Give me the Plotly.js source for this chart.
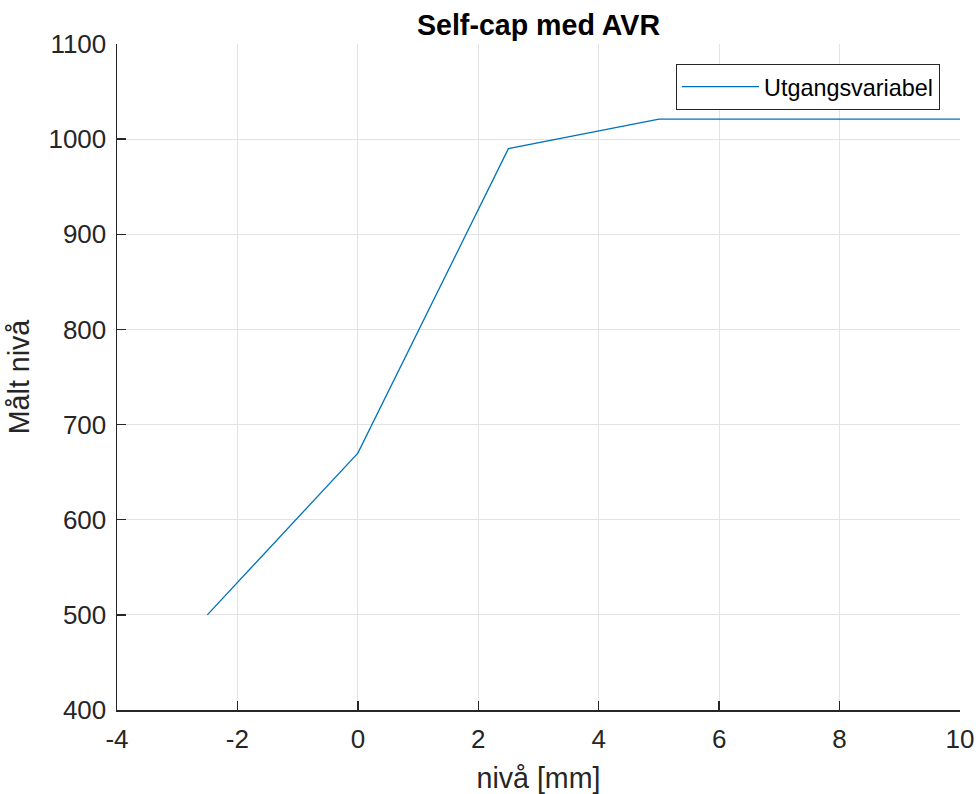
<!DOCTYPE html>
<html>
<head>
<meta charset="utf-8">
<script src="https://cdn.plot.ly/plotly-3.0.1.min.js"></script>
<style>
  html, body { margin: 0; padding: 0; background: #ffffff; }
  #chart { width: 976px; height: 794px; }
</style>
</head>
<body>
<div id="chart"></div>
<script>
// Data
const levelMm = [-2.5, 0, 2.5, 5, 7.5, 10];
const measuredLevel = [500, 670, 990, 1021, 1021, 1021];
const seriesName = "Utgangsvariabel";
const chartTitle = "Self-cap med AVR";
const xLabel = "nivå [mm]";
const yLabel = "Målt nivå";
const xTicks = [-4, -2, 0, 2, 4, 6, 8, 10];
const yTicks = [400, 500, 600, 700, 800, 900, 1000, 1100];

const FONT = '"Liberation Sans", Arial, Helvetica, sans-serif';
const AXC = '#262626';

const trace = {
  x: levelMm,
  y: measuredLevel,
  type: 'scatter',
  mode: 'lines',
  name: seriesName,
  line: { color: '#0072BD', width: 1.3 },
  showlegend: true
};

const layout = {
  width: 976,
  height: 794,
  paper_bgcolor: '#ffffff',
  plot_bgcolor: '#ffffff',
  margin: { l: 117, r: 16, t: 44, b: 84, pad: 0 },
  font: { family: FONT, color: AXC, size: 26 },
  title: {
    text: '<b>' + chartTitle + '</b>',
    font: { family: FONT, size: 28.6, color: '#000000' },
    xref: 'paper', x: 0.5, xanchor: 'center',
    yref: 'container', y: 1 - 25 / 794, yanchor: 'middle'
  },
  xaxis: {
    range: [-4, 10],
    tickvals: xTicks,
    ticktext: xTicks.map(String),
    ticks: 'inside', ticklen: 9, tickwidth: 1.5, tickcolor: AXC,
    ticklabelstandoff: 5,
    showline: true, linecolor: AXC, linewidth: 1.5, mirror: false,
    showgrid: true, gridcolor: '#e3e3e3', gridwidth: 1,
    zeroline: false,
    tickfont: { family: FONT, size: 26, color: AXC },
    title: { text: xLabel, font: { family: FONT, size: 28.6, color: AXC }, standoff: 16 }
  },
  yaxis: {
    range: [400, 1100],
    tickvals: yTicks,
    ticktext: yTicks.map(String),
    ticks: 'inside', ticklen: 9, tickwidth: 1.5, tickcolor: AXC,
    ticklabelstandoff: 4,
    showline: true, linecolor: AXC, linewidth: 1.5, mirror: false,
    showgrid: true, gridcolor: '#e3e3e3', gridwidth: 1,
    zeroline: false,
    tickfont: { family: FONT, size: 26, color: AXC },
    title: { text: yLabel, font: { family: FONT, size: 28.6, color: AXC }, standoff: 10 }
  },
  legend: {
    x: (940 - 117) / 843, xanchor: 'right',
    y: (710 - 64) / 666, yanchor: 'top',
    bgcolor: '#ffffff',
    bordercolor: AXC, borderwidth: 1,
    font: { family: FONT, size: 23.4, color: '#000000' },
    itemwidth: 77
  },
  showlegend: true
};

Plotly.newPlot('chart', [trace], layout, { displayModeBar: false, staticPlot: true });
</script>
</body>
</html>
